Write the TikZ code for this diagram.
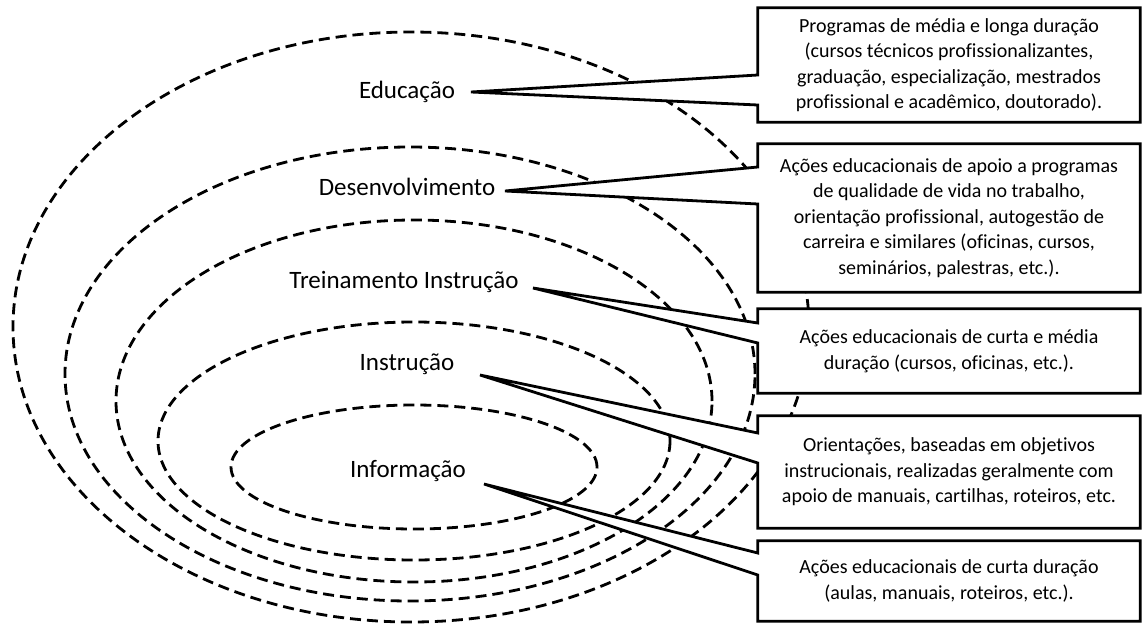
\documentclass[tikz,border=0pt]{standalone}
\usepackage{fontspec}
\setmainfont[Ligatures=NoCommon]{Carlito}
\pgfdeclarelayer{bg}
\pgfdeclarelayer{mid}
\pgfsetlayers{bg,mid,main}
\begin{document}
\begin{tikzpicture}[x=1pt,y=-1pt,
  ring/.style={draw, line width=2.8pt, dash pattern=on 11pt off 6pt},
  lab/.style={font=\fontsize{25}{30}\selectfont, anchor=base, inner sep=0pt},
  boxtext/.style={font=\fontsize{20}{25.5}\selectfont, align=center, minimum width=382pt, inner sep=0pt},
  callout/.style={draw, fill=white, line width=2.8pt, line join=miter}]
\useasboundingbox (0,0) rectangle (1142,624);

% nested rings
\begin{pgfonlayer}{bg}
\draw[ring] (411,327) ellipse [x radius=398pt, y radius=295pt];
\draw[ring] (410,374) ellipse [x radius=345pt, y radius=227pt];
\draw[ring] (414,401) ellipse [x radius=298pt, y radius=181pt];
\draw[ring] (414,441) ellipse [x radius=256pt, y radius=119pt];
\draw[ring] (414,467) ellipse [x radius=183pt, y radius=62pt];
\end{pgfonlayer}

% labels
\node[lab] (l1) at (407,98) {Educação};
\node[lab] (l2) at (407,195) {Desenvolvimento};
\node[lab] (l3) at (404,288) {Treinamento Instrução};
\node[lab] (l4) at (407,370) {Instrução};
\node[lab] (l5) at (408,477) {Informação};

% pointer tips
\coordinate (t1) at (471,92);
\coordinate (t2) at (505,191);
\coordinate (t3) at (533,288);
\coordinate (t4) at (480,375);
\coordinate (t5) at (484,484);

% boxes
\node[boxtext, minimum height=114pt] (b1) at (949,65) {Programas de média e longa duração\\(cursos técnicos profissionalizantes,\\graduação, especialização, mestrados\\profissional e acadêmico, doutorado).};
\node[boxtext, minimum height=148pt] (b2) at (949,218) {Ações educacionais de apoio a programas\\de qualidade de vida no trabalho,\\orientação profissional, autogestão de\\carreira e similares (oficinas, cursos,\\seminários, palestras, etc.).};
\node[boxtext, minimum height=84pt] (b3) at (949,351) {Ações educacionais de curta e média\\duração (cursos, oficinas, etc.).};
\node[boxtext, minimum height=112pt] (b4) at (949,472) {Orientações, baseadas em objetivos\\instrucionais, realizadas geralmente com\\apoio de manuais, cartilhas, roteiros, etc.};
\node[boxtext, minimum height=80pt] (b5) at (949,581) {Ações educacionais de curta duração\\(aulas, manuais, roteiros, etc.).};

% callout outlines
\begin{pgfonlayer}{mid}
\draw[callout] (b1.north west) -- (b1.north east) -- (b1.south east) -- (b1.south west) -- (b1.west |- 0,105) -- (t1) -- (b1.west |- 0,75) -- cycle;
\draw[callout] (b2.north west) -- (b2.north east) -- (b2.south east) -- (b2.south west) -- (b2.west |- 0,204) -- (t2) -- (b2.west |- 0,167) -- cycle;
\draw[callout] (b3.north west) -- (b3.north east) -- (b3.south east) -- (b3.south west) -- (b3.west |- 0,343) -- (t3) -- (b3.west |- 0,323) -- cycle;
\draw[callout] (b4.north west) -- (b4.north east) -- (b4.south east) -- (b4.south west) -- (b4.west |- 0,463) -- (t4) -- (b4.west |- 0,433) -- cycle;
\draw[callout] (b5.north west) -- (b5.north east) -- (b5.south east) -- (b5.south west) -- (b5.west |- 0,575) -- (t5) -- (b5.west |- 0,553) -- cycle;
\end{pgfonlayer}
\end{tikzpicture}
\end{document}
